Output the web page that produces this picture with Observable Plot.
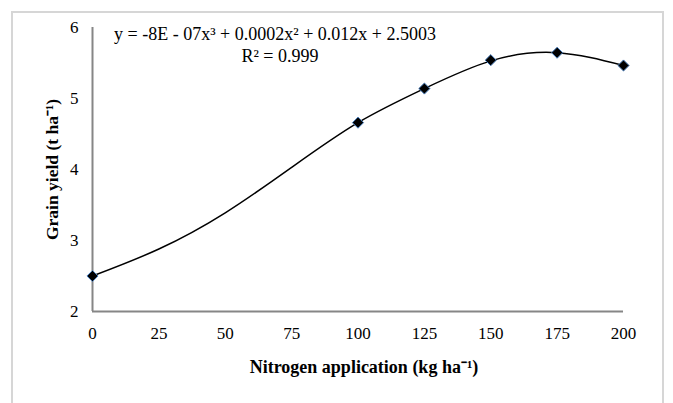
<!DOCTYPE html>
<html>
<head>
<meta charset="utf-8">
<script src="https://cdn.jsdelivr.net/npm/d3@7"></script>
<script src="https://cdn.jsdelivr.net/npm/@observablehq/plot@0.6"></script>
<style>
  html, body { margin: 0; padding: 0; background: #fff; }
  #wrap { position: relative; width: 673px; height: 403px; overflow: hidden; }
  #border { position: absolute; left: 11px; top: 11px; width: 653px; height: 420px; border: 2px solid #d6d6d6; box-sizing: border-box; pointer-events: none; }
  #wrap svg, #wrap svg text { font-family: 'Liberation Serif', 'Times New Roman', serif !important; }
</style>
</head>
<body>
<div id="wrap"><div id="border"></div></div>
<script>
// Observed data (N rate, grain yield)
const nitrogen = [0, 100, 125, 150, 175, 200];
const grainYield = [2.50, 4.66, 5.14, 5.54, 5.645, 5.465];
// Trendline (polynomial fit) values
const trendX = [0, 25, 50, 75, 100, 125, 150, 175, 200];
const trendY = [2.50, 2.88, 3.39, 4.03, 4.66, 5.14, 5.53, 5.645, 5.465];
const xTicks = [0, 25, 50, 75, 100, 125, 150, 175, 200];
const yTicks = [2, 3, 4, 5, 6];
const equationText = "y = -8E - 07x³ + 0.0002x² + 0.012x + 2.5003";
const r2Text = "R² = 0.999";
const xTitle = "Nitrogen application (kg ha⁻¹)";
const yTitle = "Grain yield (t ha⁻¹)";

const points = nitrogen.map((n, i) => ({n, y: grainYield[i]}));
const trend = trendX.map((n, i) => ({n, y: trendY[i]}));

const font = "'Liberation Serif', 'Times New Roman', serif";
const axisColor = "#868686";

const chart = Plot.plot({
  width: 673,
  height: 403,
  marginLeft: 92,
  marginRight: 50,
  marginTop: 27,
  marginBottom: 92,
  style: {fontFamily: font, fontSize: "17px", color: "#000", background: "transparent"},
  x: {domain: [0, 200], axis: null},
  y: {domain: [2, 6], axis: null},
  marks: [
    Plot.axisX(xTicks, {tickSize: 0, tickPadding: 15, fontSize: 17, label: null, fill: "#000", tickFormat: d => String(d)}),
    Plot.axisY(yTicks, {tickSize: 0, tickPadding: 14, fontSize: 17, label: null, fill: "#000", tickFormat: d => String(d)}),
    Plot.ruleY([2], {stroke: axisColor, strokeWidth: 2}),
    Plot.ruleX([0], {y1: 2, y2: 6, stroke: axisColor, strokeWidth: 2}),
    Plot.line(trend, {x: "n", y: "y", curve: "natural", stroke: "#000", strokeWidth: 1.5}),
    Plot.dot(points, {x: "n", y: "y", symbol: "diamond2", r: 5, fill: "#000", stroke: "#4a7ebb", strokeWidth: 1}),
    Plot.text([equationText], {frameAnchor: "top", dx: -83, dy: 7, lineAnchor: "middle", fontSize: 18, fill: "#000"}),
    Plot.text([r2Text], {frameAnchor: "top", dx: -78, dy: 29, lineAnchor: "middle", fontSize: 18, fill: "#000"}),
    Plot.text([xTitle], {frameAnchor: "bottom", dx: 6, dy: 56, lineAnchor: "middle", textAnchor: "middle", fontSize: 18, fontWeight: "bold", fill: "#000"}),
    Plot.text([yTitle], {frameAnchor: "left", dx: -40, rotate: -90, lineAnchor: "middle", textAnchor: "middle", fontSize: 17.5, fontWeight: "bold", fill: "#000"})
  ]
});
document.getElementById("wrap").appendChild(chart);
chart.style.position = "absolute";
chart.style.left = "0";
chart.style.top = "0";
</script>
</body>
</html>
